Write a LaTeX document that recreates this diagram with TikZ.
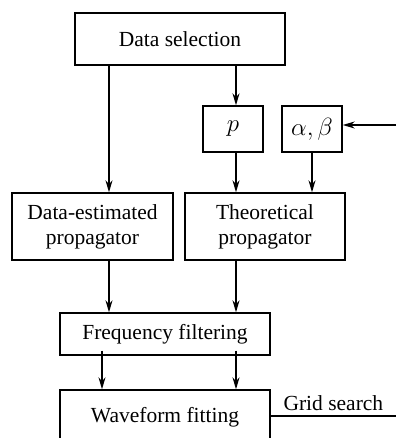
\documentclass[tikz,border=0pt]{standalone}
\usepackage{fontspec}
\setmainfont{Liberation Serif}
\usetikzlibrary{arrows.meta}
\begin{document}
\begin{tikzpicture}[x=1pt,y=-1pt,
  box/.style={draw,line width=1.4pt,inner sep=0pt,font=\fontsize{21.5}{25}\selectfont,align=center},
  mbox/.style={box,minimum width=60pt,minimum height=46pt,font=\fontsize{24}{28}\selectfont},
  arr/.style={line width=1.4pt,-{Stealth[length=12pt,width=7pt]}},
  ln/.style={line width=1.4pt}]
\useasboundingbox (0,0) rectangle (396,438);
\clip (0,0) rectangle (396,438);
\node[box,minimum width=210pt,minimum height=52pt] (sel) at (180,39) {Data selection};
\node[mbox] (p) at (233,129) {$p$};
\node[mbox] (ab) at (312,129) {$\alpha,\beta$};
\node[box,minimum width=161pt,minimum height=67pt] (de) at (92.5,226.5) {Data-estimated\\propagator};
\node[box,minimum width=160pt,minimum height=67pt] (th) at (265,226.5) {Theoretical\\propagator};
\node[box,minimum width=210pt,minimum height=42pt] (ff) at (165,334) {Frequency filtering};
\node[box,minimum width=210pt,minimum height=54pt] (wf) at (165,417) {Waveform fitting};
\coordinate (abin) at (396,125);
\coordinate (gs) at (396,416);
\draw[arr] (sel.south -| 109,0) -- (de.north -| 109,0);
\draw[arr] (sel.south -| 236,0) -- (p.north -| 236,0);
\draw[arr] (p.south -| 236,0) -- (th.north -| 236,0);
\draw[arr] (ab.south) -- (th.north -| ab.south);
\draw[arr] (abin) -- (ab.east |- abin);
\draw[arr] (de.south -| 109,0) -- (ff.north -| 109,0);
\draw[arr] (th.south -| 236,0) -- (ff.north -| 236,0);
\draw[arr] ([yshift=5pt]ff.south -| 102,0) -- (wf.north -| 102,0);
\draw[arr] ([yshift=5pt]ff.south -| 236,0) -- (wf.north -| 236,0);
\draw[ln] (wf.east |- gs) -- node[above=1pt,font=\fontsize{21.5}{25}\selectfont] (gst) {Grid search} (gs);
\end{tikzpicture}
\end{document}
